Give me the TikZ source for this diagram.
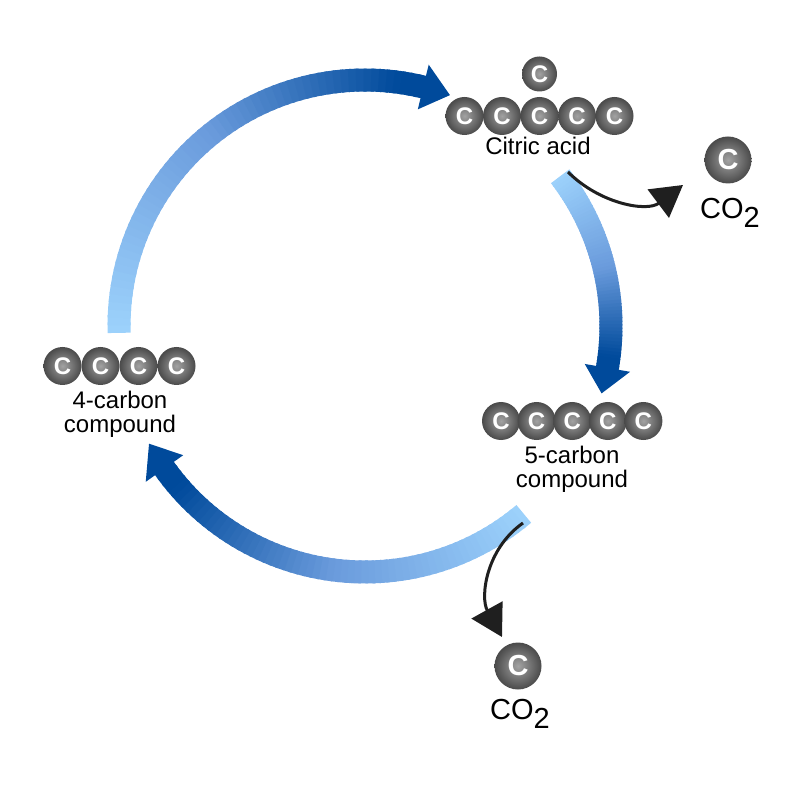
\documentclass[tikz,border=0pt]{standalone}
\usepackage{fontspec}
\setmainfont{Liberation Sans}
\usetikzlibrary{arrows.meta, calc}

\definecolor{blight}{HTML}{9CD1FB}
\definecolor{bmid}{HTML}{6A9BDC}
\definecolor{bdark}{HTML}{004A9B}
\definecolor{ballin}{HTML}{A2A2A2}
\definecolor{ballout}{HTML}{4A4A4A}

\begin{document}
\begin{tikzpicture}[
    x=1pt, y=1pt,
    band/.style   = {line width=23pt, line cap=butt},
    carbon/.style = {circle, minimum size=38pt, inner sep=0pt,
                     shading=radial, inner color=ballin, outer color=ballout,
                     text=white, font=\fontsize{24}{24}\selectfont\bfseries},
    gas/.style    = {carbon, minimum size=47pt,
                     font=\fontsize{29}{29}\selectfont\bfseries},
    lbl/.style    = {align=center, inner sep=0pt, anchor=north,
                     font=\fontsize{24}{24}\selectfont},
    release/.style = {line width=3pt, black!88,
                      -{Triangle[length=31pt, width=35pt]}},
  ]
  \useasboundingbox (0,0) rectangle (792,788);

  % --- the cycle: three arcs of one circle, light to dark blue ------------
  \def\rad{246}
  \coordinate (ctr) at (365,462);
  \foreach \sa/\ea/\ta in {181.6/76.3/69.8, 37.5/-9.8/-15.9, 310.2/215.4/208.6} {
    \foreach \i in {0,...,59} {
      \pgfmathsetmacro\aone{\sa+(\ea-\sa)*\i/60}
      \pgfmathsetmacro\atwo{\sa+(\ea-\sa)*(\i+1.4)/60}
      \pgfmathtruncatemacro\mixa{min(100,200*\i/59)}
      \pgfmathtruncatemacro\mixb{max(0,min(100,(\i/59-0.5)*100/0.45))}
      \colorlet{segc}{bmid!\mixa!blight}
      \draw[band, draw=bdark!\mixb!segc] ($(ctr)+(\aone:\rad)$)
        arc[start angle=\aone, end angle=\atwo, radius=\rad];
    }
    \fill[bdark] ($(ctr)+(\ea:\rad-23)$) -- ($(ctr)+(\ta:\rad)$)
      -- ($(ctr)+(\ea:\rad+23)$) -- cycle;
  }

  % --- citric acid (six carbons) ------------------------------------------
  \foreach \x [count=\i] in {464.5, 502, 539.5, 577, 614.5} {
    \node[carbon] (cit\i) at (\x,672) {C};
  }
  \node[carbon, minimum size=35pt] (cit6) at (539.5,714) {C};
  \node[lbl] (citlbl) at (538,651) {Citric acid};

  % --- 5-carbon compound --------------------------------------------------
  \foreach \x [count=\i] in {501, 536.6, 572.2, 607.8, 643.4} {
    \node[carbon] (five\i) at (\x,367) {C};
  }
  \node[lbl] (fivelbl) at (572,342) {5-carbon\\compound};

  % --- 4-carbon compound --------------------------------------------------
  \foreach \x [count=\i] in {62.5, 100.5, 138.5, 176.5} {
    \node[carbon] (four\i) at (\x,422) {C};
  }
  \node[lbl] (fourlbl) at (120,397) {4-carbon\\compound};

  % --- carbon dioxide given off -------------------------------------------
  \node[gas] (gasA) at (728,628) {C};
  \node[lbl, font=\fontsize{29}{29}\selectfont] (gasAlbl) at (730,590)
    {CO\raisebox{-9pt}{2}};
  \node[gas] (gasB) at (518,122) {C};
  \node[lbl, font=\fontsize{29}{29}\selectfont] (gasBlbl) at (520,89)
    {CO\raisebox{-9pt}{2}};

  \coordinate (relA) at (568,616);
  \coordinate (tipA) at (683,603);
  \coordinate (relB) at (523,265);
  \coordinate (tipB) at (502,151);
  \draw[release] (relA) to[out=-45, in=217] (tipA);
  \draw[release] (relB) to[out=215, in=119] (tipB);

\end{tikzpicture}
\end{document}
